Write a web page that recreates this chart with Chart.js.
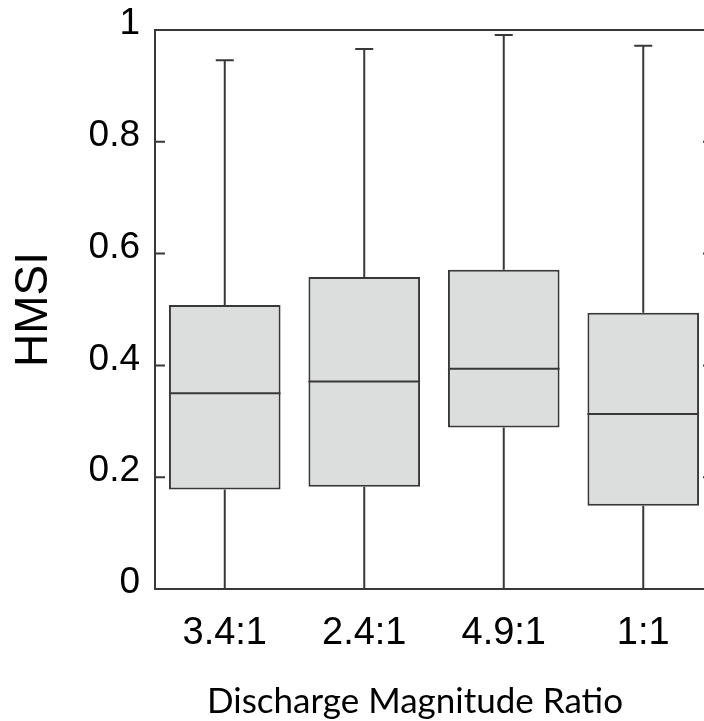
<!DOCTYPE html>
<html>
<head>
<meta charset="utf-8">
<script src="https://cdn.jsdelivr.net/npm/chart.js@4.4.0/dist/chart.umd.min.js"></script>
<style>
  html, body { margin: 0; padding: 0; background: #ffffff; overflow: hidden; }
  #wrap { width: 720px; height: 721px; }
</style>
</head>
<body>
<div id="wrap"><canvas id="chart" width="720" height="721"></canvas></div>
<script>
// Box plot of HMSI by discharge magnitude ratio
const categories = ['3.4:1', '2.4:1', '4.9:1', '1:1'];
const whiskerLow = [0, 0, 0, 0];
const quartile1 = [0.178, 0.183, 0.289, 0.149];
const medians = [0.350, 0.371, 0.394, 0.313];
const quartile3 = [0.508, 0.558, 0.571, 0.494];
const whiskerHigh = [0.946, 0.966, 0.991, 0.972];
const yTickLabels = ['0', '0.2', '0.4', '0.6', '0.8', '1'];
const xTitle = 'Discharge Magnitude Ratio';

const LINE = '#383838';
const LINE_W = 2;

// Whiskers, caps, medians and the framed plot with inward ticks
const boxExtras = {
  id: 'boxExtras',
  afterDatasetsDraw(chart) {
    const { ctx, chartArea: a, scales: { x, y } } = chart;
    const meta = chart.getDatasetMeta(0);
    ctx.save();
    ctx.strokeStyle = LINE;
    ctx.lineWidth = LINE_W;
    ctx.lineCap = 'butt';
    meta.data.forEach((bar, i) => {
      const cx = x.getPixelForValue(i);
      const half = bar.width / 2;
      const cap = 9;
      const yHi = y.getPixelForValue(whiskerHigh[i]);
      const yQ3 = y.getPixelForValue(quartile3[i]);
      const yQ1 = y.getPixelForValue(quartile1[i]);
      const yLo = y.getPixelForValue(whiskerLow[i]);
      const yMed = y.getPixelForValue(medians[i]);
      ctx.beginPath();
      ctx.moveTo(cx, yHi); ctx.lineTo(cx, yQ3);
      ctx.moveTo(cx - cap, yHi); ctx.lineTo(cx + cap, yHi);
      ctx.moveTo(cx, yQ1); ctx.lineTo(cx, yLo);
      ctx.moveTo(cx - half, yMed); ctx.lineTo(cx + half, yMed);
      ctx.stroke();
    });
    // frame
    ctx.beginPath();
    ctx.rect(a.left, a.top, a.right - a.left, a.bottom - a.top);
    ctx.stroke();
    // inward ticks on left and right
    const tl = 10;
    y.ticks.forEach((t) => {
      const py = y.getPixelForValue(t.value);
      if (t.value <= 0 || t.value >= 1) return;
      ctx.beginPath();
      ctx.moveTo(a.left, py); ctx.lineTo(a.left + tl, py);
      ctx.moveTo(a.right, py); ctx.lineTo(a.right - tl, py);
      ctx.stroke();
    });
    ctx.restore();
  },
  // x-axis caption, centred under the visible figure
  afterDraw(chart) {
    const { ctx } = chart;
    ctx.save();
    ctx.fillStyle = '#000000';
    ctx.font = '35px Lato, sans-serif';
    ctx.textAlign = 'center';
    ctx.textBaseline = 'alphabetic';
    ctx.fillText(xTitle, 415, 713);
    ctx.restore();
  }
};

new Chart(document.getElementById('chart'), {
  type: 'bar',
  data: {
    labels: categories,
    datasets: [{
      data: quartile1.map((q, i) => [q, quartile3[i]]),
      backgroundColor: '#dcdddd',
      borderColor: LINE,
      borderWidth: LINE_W,
      borderSkipped: false,
      categoryPercentage: 0.8,
      barPercentage: 1.0
    }]
  },
  options: {
    responsive: false,
    animation: false,
    devicePixelRatio: 1,
    layout: { padding: { top: 30, right: 7, left: 0, bottom: 0 } },
    plugins: { legend: { display: false }, tooltip: { enabled: false } },
    scales: {
      x: {
        grid: { display: false, drawTicks: false },
        border: { display: false },
        ticks: {
          color: '#000000',
          font: { family: 'Liberation Sans, Arial, sans-serif', size: 38 },
          padding: 22,
          maxRotation: 0
        },
        afterFit(scale) { scale.height = 132; }
      },
      y: {
        min: 0,
        max: 1,
        grid: { display: false, drawTicks: false },
        border: { display: false },
        ticks: {
          stepSize: 0.2,
          color: '#000000',
          font: { family: 'Liberation Sans, Arial, sans-serif', size: 37, lineHeight: 0.8 },
          padding: 15,
          labelOffset: -6,
          callback: (v, i) => yTickLabels[i]
        },
        title: {
          display: true,
          text: 'HMSI',
          color: '#000000',
          font: { family: 'Liberation Sans, Arial, sans-serif', size: 46 },
          padding: { top: 7, bottom: 0 }
        },
        afterFit(scale) { scale.width = 155; }
      }
    }
  },
  plugins: [boxExtras]
});
</script>
</body>
</html>
